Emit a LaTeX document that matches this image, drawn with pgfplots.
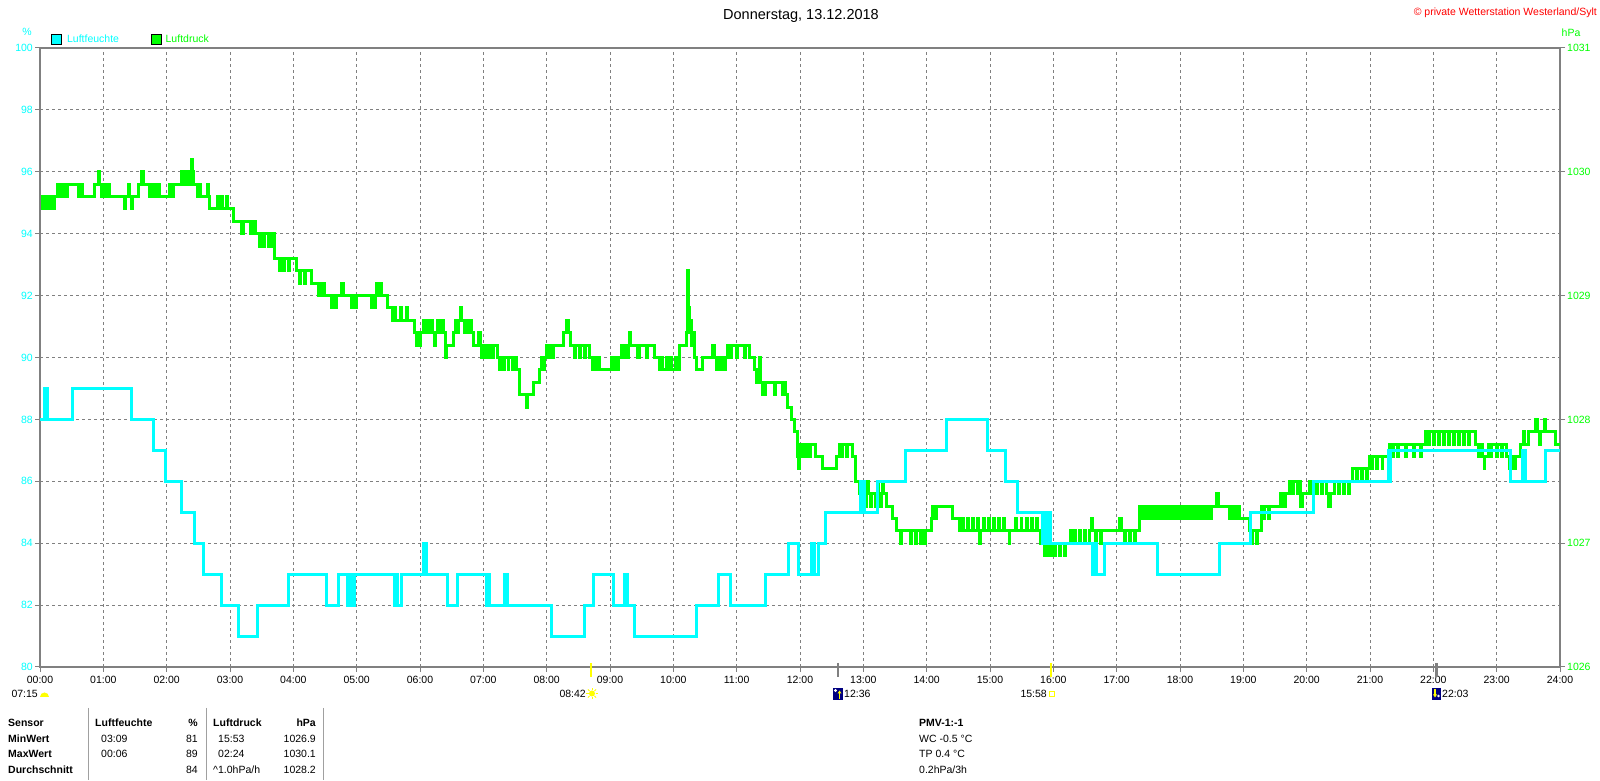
\documentclass[border=0pt]{standalone}
\usepackage{fontspec}
\setmainfont{Liberation Sans}
\usepackage{pgfplots}
\usepackage{pgfplotstable}
\pgfplotsset{compat=1.18}
\definecolor{lcyan}{RGB}{0,255,255}
\definecolor{lgreen}{RGB}{0,255,0}
\definecolor{axgray}{RGB}{128,128,128}
\definecolor{sepgray}{RGB}{160,160,160}
\definecolor{navy}{RGB}{0,0,128}
\definecolor{sunyel}{RGB}{255,255,0}
\newcommand\fs{\fontsize{10.5}{12}\selectfont}

\pgfplotstableread{
x y
0 88
0.07 89
0.12 88
0.51 89
1.44 88
1.79 87
1.98 86
2.24 85
2.44 84
2.58 83
2.86 82
3.14 81
3.44 82
3.93 83
4.52 82
4.72 83
4.86 82
4.89 83
4.92 82
4.97 83
5.59 82
5.62 83
5.65 82
5.70 83
6.05 84
6.10 83
6.43 82
6.59 83
7.05 82
7.08 83
7.10 82
7.34 83
7.38 82
8.08 81
8.59 82
8.74 83
9.05 82
9.23 83
9.28 82
9.39 81
10.36 82
10.72 83
10.91 82
11.45 83
11.82 84
11.97 83
12.18 84
12.23 83
12.29 84
12.41 85
12.95 86
12.97 85
13.00 86
13.02 85
13.22 86
13.66 87
14.32 88
14.96 87
15.25 86
15.44 85
15.83 84
15.86 85
15.89 84
15.92 85
15.95 84
16.62 83
16.65 84
16.68 83
16.80 84
17.64 83
18.62 84
19.12 85
20.11 86
21.29 87
21.31 86
21.33 87
23.22 86
23.41 87
23.46 86
23.77 87
24 87
}\hum

\pgfplotstableread{
x y
0.000 1029.8
0.020 1029.7
0.035 1029.8
0.060 1029.7
0.075 1029.8
0.100 1029.7
0.115 1029.8
0.140 1029.7
0.155 1029.8
0.180 1029.7
0.195 1029.8
0.210 1029.7
0.225 1029.8
0.270 1029.9
0.300 1029.8
0.315 1029.9
0.340 1029.8
0.355 1029.9
0.400 1029.8
0.440 1029.9
0.600 1029.8
0.620 1029.9
0.635 1029.8
0.660 1029.9
0.675 1029.8
0.860 1029.9
0.920 1030.0
0.945 1029.9
0.970 1029.8
1.000 1029.9
1.015 1029.8
1.040 1029.9
1.055 1029.8
1.080 1029.9
1.095 1029.8
1.330 1029.7
1.350 1029.8
1.400 1029.9
1.415 1029.8
1.440 1029.7
1.455 1029.8
1.550 1029.9
1.610 1030.0
1.635 1029.9
1.730 1029.8
1.760 1029.9
1.775 1029.8
1.820 1029.9
1.835 1029.8
1.870 1029.9
1.885 1029.8
2.050 1029.9
2.080 1029.8
2.100 1029.9
2.230 1030.0
2.250 1029.9
2.280 1030.0
2.300 1029.9
2.330 1030.0
2.350 1029.9
2.375 1030.0
2.390 1030.1
2.410 1030.0
2.430 1029.9
2.490 1029.8
2.520 1029.9
2.540 1029.8
2.640 1029.9
2.660 1029.8
2.680 1029.7
2.810 1029.8
2.825 1029.7
2.870 1029.8
2.885 1029.7
2.940 1029.8
2.955 1029.7
3.050 1029.6
3.180 1029.5
3.210 1029.6
3.330 1029.5
3.360 1029.6
3.400 1029.5
3.470 1029.4
3.485 1029.5
3.530 1029.4
3.545 1029.5
3.600 1029.4
3.615 1029.5
3.660 1029.4
3.675 1029.5
3.710 1029.3
3.780 1029.2
3.795 1029.3
3.850 1029.2
3.865 1029.3
3.920 1029.2
3.935 1029.3
4.050 1029.2
4.100 1029.1
4.115 1029.2
4.170 1029.1
4.185 1029.2
4.280 1029.1
4.390 1029.0
4.420 1029.1
4.435 1029.0
4.480 1029.1
4.495 1029.0
4.600 1028.9
4.615 1029.0
4.670 1028.9
4.685 1029.0
4.760 1029.1
4.790 1029.0
4.920 1028.9
4.935 1029.0
4.980 1028.9
4.995 1029.0
5.230 1028.9
5.245 1029.0
5.290 1028.9
5.305 1029.0
5.320 1029.1
5.345 1029.0
5.370 1029.1
5.390 1029.0
5.480 1028.9
5.570 1028.8
5.600 1028.9
5.615 1028.8
5.690 1028.9
5.705 1028.8
5.780 1028.9
5.795 1028.8
5.920 1028.7
5.940 1028.6
5.955 1028.7
6.000 1028.6
6.015 1028.7
6.050 1028.8
6.080 1028.7
6.095 1028.8
6.140 1028.7
6.155 1028.8
6.200 1028.7
6.230 1028.6
6.250 1028.7
6.280 1028.8
6.310 1028.7
6.325 1028.8
6.370 1028.7
6.400 1028.6
6.410 1028.5
6.425 1028.6
6.530 1028.7
6.560 1028.8
6.590 1028.7
6.605 1028.8
6.640 1028.9
6.660 1028.8
6.700 1028.7
6.715 1028.8
6.760 1028.7
6.775 1028.8
6.820 1028.7
6.840 1028.6
6.930 1028.7
6.950 1028.6
6.970 1028.5
6.990 1028.6
7.030 1028.5
7.045 1028.6
7.090 1028.5
7.105 1028.6
7.150 1028.5
7.165 1028.6
7.220 1028.5
7.260 1028.4
7.275 1028.5
7.320 1028.4
7.335 1028.5
7.390 1028.4
7.405 1028.5
7.460 1028.4
7.475 1028.5
7.520 1028.4
7.570 1028.2
7.680 1028.1
7.700 1028.2
7.790 1028.3
7.890 1028.4
7.920 1028.5
7.950 1028.4
7.970 1028.5
8.000 1028.6
8.030 1028.5
8.045 1028.6
8.090 1028.5
8.105 1028.6
8.260 1028.7
8.320 1028.8
8.345 1028.7
8.370 1028.6
8.440 1028.5
8.455 1028.6
8.520 1028.5
8.535 1028.6
8.600 1028.5
8.615 1028.6
8.680 1028.5
8.730 1028.4
8.760 1028.5
8.775 1028.4
8.820 1028.5
8.835 1028.4
9.020 1028.5
9.050 1028.4
9.065 1028.5
9.120 1028.4
9.135 1028.5
9.180 1028.6
9.210 1028.5
9.225 1028.6
9.280 1028.5
9.295 1028.6
9.310 1028.7
9.330 1028.6
9.440 1028.5
9.460 1028.6
9.570 1028.5
9.590 1028.6
9.700 1028.5
9.780 1028.4
9.810 1028.5
9.825 1028.4
9.890 1028.5
9.905 1028.4
9.960 1028.5
9.975 1028.4
10.040 1028.5
10.055 1028.4
10.100 1028.6
10.200 1028.7
10.220 1029.2
10.235 1028.9
10.250 1028.7
10.270 1028.8
10.290 1028.6
10.310 1028.7
10.330 1028.5
10.360 1028.4
10.460 1028.5
10.620 1028.6
10.650 1028.5
10.680 1028.4
10.710 1028.5
10.725 1028.4
10.770 1028.5
10.785 1028.4
10.830 1028.5
10.860 1028.6
10.900 1028.5
10.915 1028.6
11.000 1028.5
11.015 1028.6
11.120 1028.5
11.135 1028.6
11.200 1028.5
11.280 1028.4
11.310 1028.3
11.330 1028.4
11.360 1028.5
11.380 1028.3
11.410 1028.2
11.460 1028.3
11.590 1028.2
11.610 1028.3
11.720 1028.2
11.740 1028.3
11.770 1028.2
11.800 1028.1
11.860 1028.0
11.910 1027.9
11.960 1027.7
11.970 1027.6
11.990 1027.8
12.040 1027.7
12.055 1027.8
12.100 1027.7
12.115 1027.8
12.150 1027.7
12.165 1027.8
12.250 1027.7
12.360 1027.6
12.570 1027.7
12.620 1027.8
12.660 1027.7
12.675 1027.8
12.740 1027.7
12.755 1027.8
12.830 1027.7
12.880 1027.5
12.940 1027.4
12.970 1027.3
12.985 1027.4
13.040 1027.3
13.055 1027.4
13.070 1027.5
13.085 1027.4
13.120 1027.3
13.135 1027.4
13.190 1027.3
13.205 1027.4
13.220 1027.5
13.235 1027.4
13.270 1027.3
13.285 1027.4
13.310 1027.5
13.325 1027.4
13.360 1027.3
13.460 1027.2
13.520 1027.1
13.590 1027.0
13.610 1027.1
13.750 1027.0
13.765 1027.1
13.820 1027.0
13.835 1027.1
13.900 1027.0
13.915 1027.1
13.970 1027.0
13.985 1027.1
14.070 1027.2
14.090 1027.3
14.110 1027.2
14.160 1027.3
14.410 1027.2
14.520 1027.1
14.560 1027.2
14.575 1027.1
14.640 1027.2
14.655 1027.1
14.720 1027.2
14.735 1027.1
14.800 1027.2
14.815 1027.1
14.830 1027.0
14.845 1027.1
14.900 1027.2
14.915 1027.1
14.980 1027.2
14.995 1027.1
15.060 1027.2
15.075 1027.1
15.140 1027.2
15.155 1027.1
15.220 1027.2
15.235 1027.1
15.300 1027.0
15.315 1027.1
15.410 1027.2
15.425 1027.1
15.490 1027.2
15.505 1027.1
15.570 1027.2
15.585 1027.1
15.650 1027.2
15.665 1027.1
15.730 1027.2
15.745 1027.1
15.790 1027.0
15.860 1026.9
15.890 1027.0
15.930 1026.9
15.950 1027.0
16.010 1026.9
16.030 1027.0
16.090 1026.9
16.110 1027.0
16.170 1026.9
16.190 1027.0
16.270 1027.1
16.285 1027.0
16.330 1027.1
16.345 1027.0
16.410 1027.1
16.425 1027.0
16.490 1027.1
16.505 1027.0
16.570 1027.1
16.610 1027.2
16.625 1027.1
16.660 1027.0
16.675 1027.1
16.740 1027.0
16.755 1027.1
17.050 1027.2
17.070 1027.1
17.120 1027.0
17.135 1027.1
17.200 1027.0
17.215 1027.1
17.280 1027.0
17.295 1027.1
17.360 1027.3
17.400 1027.2
17.415 1027.3
17.460 1027.2
17.475 1027.3
17.520 1027.2
17.535 1027.3
17.580 1027.2
17.595 1027.3
17.640 1027.2
17.655 1027.3
17.700 1027.2
17.715 1027.3
17.760 1027.2
17.775 1027.3
17.820 1027.2
17.835 1027.3
17.880 1027.2
17.895 1027.3
17.940 1027.2
17.955 1027.3
18.000 1027.2
18.015 1027.3
18.060 1027.2
18.075 1027.3
18.120 1027.2
18.135 1027.3
18.180 1027.2
18.195 1027.3
18.240 1027.2
18.255 1027.3
18.300 1027.2
18.315 1027.3
18.360 1027.2
18.375 1027.3
18.420 1027.2
18.435 1027.3
18.480 1027.2
18.495 1027.3
18.570 1027.4
18.610 1027.3
18.780 1027.2
18.795 1027.3
18.840 1027.2
18.855 1027.3
18.900 1027.2
18.915 1027.3
18.940 1027.2
19.090 1027.1
19.120 1027.0
19.140 1027.1
19.200 1027.0
19.220 1027.1
19.280 1027.3
19.320 1027.2
19.335 1027.3
19.400 1027.2
19.415 1027.3
19.590 1027.4
19.640 1027.3
19.660 1027.4
19.730 1027.5
19.770 1027.4
19.785 1027.5
19.850 1027.4
19.865 1027.5
19.910 1027.3
19.940 1027.4
20.040 1027.5
20.080 1027.4
20.095 1027.5
20.160 1027.4
20.175 1027.5
20.240 1027.4
20.255 1027.5
20.320 1027.4
20.340 1027.3
20.380 1027.4
20.440 1027.5
20.500 1027.4
20.515 1027.5
20.580 1027.4
20.595 1027.5
20.660 1027.4
20.675 1027.5
20.730 1027.6
20.780 1027.5
20.795 1027.6
20.860 1027.5
20.875 1027.6
20.940 1027.5
20.955 1027.6
20.990 1027.7
21.030 1027.6
21.045 1027.7
21.110 1027.6
21.125 1027.7
21.190 1027.6
21.205 1027.7
21.310 1027.8
21.350 1027.7
21.365 1027.8
21.440 1027.7
21.455 1027.8
21.560 1027.7
21.575 1027.8
21.680 1027.7
21.695 1027.8
21.800 1027.7
21.815 1027.8
21.880 1027.9
21.920 1027.8
21.935 1027.9
22.000 1027.8
22.015 1027.9
22.080 1027.8
22.095 1027.9
22.160 1027.8
22.175 1027.9
22.240 1027.8
22.255 1027.9
22.320 1027.8
22.335 1027.9
22.400 1027.8
22.415 1027.9
22.480 1027.8
22.495 1027.9
22.560 1027.8
22.575 1027.9
22.670 1027.8
22.710 1027.7
22.725 1027.8
22.780 1027.7
22.800 1027.6
22.815 1027.7
22.870 1027.8
22.910 1027.7
22.925 1027.8
22.990 1027.7
23.005 1027.8
23.070 1027.7
23.085 1027.8
23.150 1027.7
23.200 1027.6
23.240 1027.7
23.280 1027.6
23.300 1027.7
23.380 1027.8
23.420 1027.9
23.440 1027.8
23.510 1027.9
23.620 1028.0
23.640 1027.9
23.670 1027.8
23.690 1027.9
23.750 1028.0
23.770 1027.9
23.930 1027.8
24.000 1027.8
}\press

\begin{document}
\begin{tikzpicture}[x=1pt,y=1pt]
\path[fill=white] (0,0) rectangle (1600,780);
% pressure axis (with grid and box)
\begin{axis}[
  at={(40pt,113pt)}, anchor=south west, scale only axis,
  width=1520pt, height=619pt,
  xmin=0, xmax=24, ymin=1026, ymax=1031,
  axis line style={axgray, line width=2pt},
  xtick={0,...,24},
  xticklabels={00:00,01:00,02:00,03:00,04:00,05:00,06:00,07:00,08:00,09:00,10:00,11:00,12:00,13:00,14:00,15:00,16:00,17:00,18:00,19:00,20:00,21:00,22:00,23:00,24:00},
  ytick={1026,1027,1028,1029,1030,1031},
  minor ytick={1026.5,1027.5,1028.5,1029.5,1030.5},
  xmajorgrids, ymajorgrids, yminorgrids,
  major grid style={axgray, line width=1pt, dash pattern=on 3pt off 3pt},
  minor grid style={axgray, line width=1pt, dash pattern=on 3pt off 3pt},
  minor tick length=0pt,
  tick align=outside, major tick length=5pt,
  major tick style={axgray, line width=1pt},
  xtick pos=left, ytick pos=right, yticklabel pos=right,
  /pgf/number format/assume math mode=true,
  /pgf/number format/1000 sep={},
  yticklabel style={text=lgreen, font=\fs, inner sep=0pt, xshift=2pt},
  xticklabel style={text=black, font=\fs, inner sep=0pt, anchor=north, yshift=-4pt},
]
\addplot[const plot, lgreen, line width=3pt] table[x=x,y=y] {\press};
\end{axis}
% humidity axis
\begin{axis}[
  at={(40pt,113pt)}, anchor=south west, scale only axis,
  width=1520pt, height=619pt,
  xmin=0, xmax=24, ymin=80, ymax=100,
  axis x line=none, axis y line*=left,
  axis line style={axgray, line width=2pt},
  ytick={80,82,...,100},
  tick align=outside, major tick length=5pt,
  major tick style={axgray, line width=1pt},
  /pgf/number format/assume math mode=true,
  yticklabel style={text=lcyan, font=\fs, inner sep=0pt, xshift=-2pt},
  legend columns=2,
  legend style={at={(0,1)}, anchor=south west, xshift=11pt, yshift=2pt,
    draw=none, fill=none, inner sep=0pt, font=\fs,
    /tikz/every even column/.append style={column sep=30pt}},
]
\addplot[const plot, lcyan, line width=3pt,
  legend image code/.code={\draw[black, line width=0.8pt, fill=lcyan] (0pt,-5pt) rectangle (10pt,5pt); \path (12pt,0pt);}]
  table[x=x,y=y] {\hum};
\addlegendentry{\textcolor{lcyan}{Luftfeuchte}}
\addlegendimage{legend image code/.code={\draw[black, line width=0.8pt, fill=lgreen] (0pt,-5pt) rectangle (10pt,5pt); \path (12pt,0pt);}}
\addlegendentry{\textcolor{lgreen}{Luftdruck}}
\end{axis}

% header texts
\node[anchor=base, inner sep=0pt, font=\fontsize{14.5}{16}\selectfont] at (801,760) {Donnerstag, 13.12.2018};
\node[anchor=base east, inner sep=0pt, text=red, font=\fs] at (1597,764) {\textcopyright{} private Wetterstation Westerland/Sylt};
\node[anchor=base, inner sep=0pt, text=lcyan, font=\fs] at (27,744) {\%};
\node[anchor=base, inner sep=0pt, text=lgreen, font=\fs] at (1571,743) {hPa};

% sun / moon time markers
\draw[sunyel, line width=2.5pt] (591,117) -- (591,103);
\draw[sunyel, line width=2.5pt] (1051,117) -- (1051,103);
\draw[axgray, line width=2.5pt] (838,117) -- (838,103);
\draw[axgray, line width=2.5pt] (1436.5,117) -- (1436.5,103);
\node[anchor=base east, inner sep=0pt, font=\fs] at (38,82.5) {07:15};
\fill[sunyel] (40,83) arc (180:0:4.5) -- cycle;
\node[anchor=base east, inner sep=0pt, font=\fs] at (586,82.5) {08:42};
\fill[sunyel] (592,86.5) circle (3);
\foreach \a in {0,45,...,315} {\draw[sunyel, line width=0.8pt] (592,86.5) ++(\a:3.5) -- ++(\a:2.2);}
\fill[navy] (833,80) rectangle (843,92);
\fill[white] (835.5,89.5) circle (1.6);
\draw[sunyel, line width=1.2pt] (839.5,81) -- (839.5,88);
\fill[sunyel] (837.5,86.5) -- (839.5,89.5) -- (841.5,86.5) -- cycle;
\node[anchor=base west, inner sep=0pt, font=\fs] at (844,82.5) {12:36};
\node[anchor=base east, inner sep=0pt, font=\fs] at (1047,82.5) {15:58};
\draw[sunyel, line width=0.9pt] (1049,84) rectangle (1054,89);
\fill[navy] (1432,80) rectangle (1441,92);
\draw[sunyel, line width=1.2pt] (1435,91) -- (1435,84);
\fill[sunyel] (1433,85.5) -- (1435,82.5) -- (1437,85.5) -- cycle;
\fill[white] (1438.5,84) circle (1.4);
\node[anchor=base west, inner sep=0pt, font=\fs] at (1442,82.5) {22:03};

% statistics table
\draw[sepgray, line width=1pt] (88,72) -- (88,0);
\draw[sepgray, line width=1pt] (206,72) -- (206,0);
\draw[sepgray, line width=1pt] (323,72) -- (323,0);
\begin{scope}[every node/.style={inner sep=0pt, font=\fs}]
\node[anchor=base west, font=\fs\bfseries] at (8,53.5) {Sensor};
\node[anchor=base west, font=\fs\bfseries] at (8,37.5) {MinWert};
\node[anchor=base west, font=\fs\bfseries] at (8,22) {MaxWert};
\node[anchor=base west, font=\fs\bfseries] at (8,6.5) {Durchschnitt};
\node[anchor=base west, font=\fs\bfseries] at (95,53.5) {Luftfeuchte};
\node[anchor=base east, font=\fs\bfseries] at (198,53.5) {\%};
\node[anchor=base west] at (101,37.5) {03:09};
\node[anchor=base east] at (198,37.5) {81};
\node[anchor=base west] at (101,22) {00:06};
\node[anchor=base east] at (198,22) {89};
\node[anchor=base east] at (198,6.5) {84};
\node[anchor=base west, font=\fs\bfseries] at (213,53.5) {Luftdruck};
\node[anchor=base east, font=\fs\bfseries] at (316,53.5) {hPa};
\node[anchor=base west] at (218,37.5) {15:53};
\node[anchor=base east] at (316,37.5) {1026.9};
\node[anchor=base west] at (218,22) {02:24};
\node[anchor=base east] at (316,22) {1030.1};
\node[anchor=base west] at (213,6.5) {\textasciicircum1.0hPa/h};
\node[anchor=base east] at (316,6.5) {1028.2};
\node[anchor=base west, font=\fs\bfseries] at (919,53.5) {PMV-1:-1};
\node[anchor=base west] at (919,37.5) {WC -0.5 °C};
\node[anchor=base west] at (919,22) {TP 0.4 °C};
\node[anchor=base west] at (919,6.5) {0.2hPa/3h};
\end{scope}
\end{tikzpicture}
\end{document}
